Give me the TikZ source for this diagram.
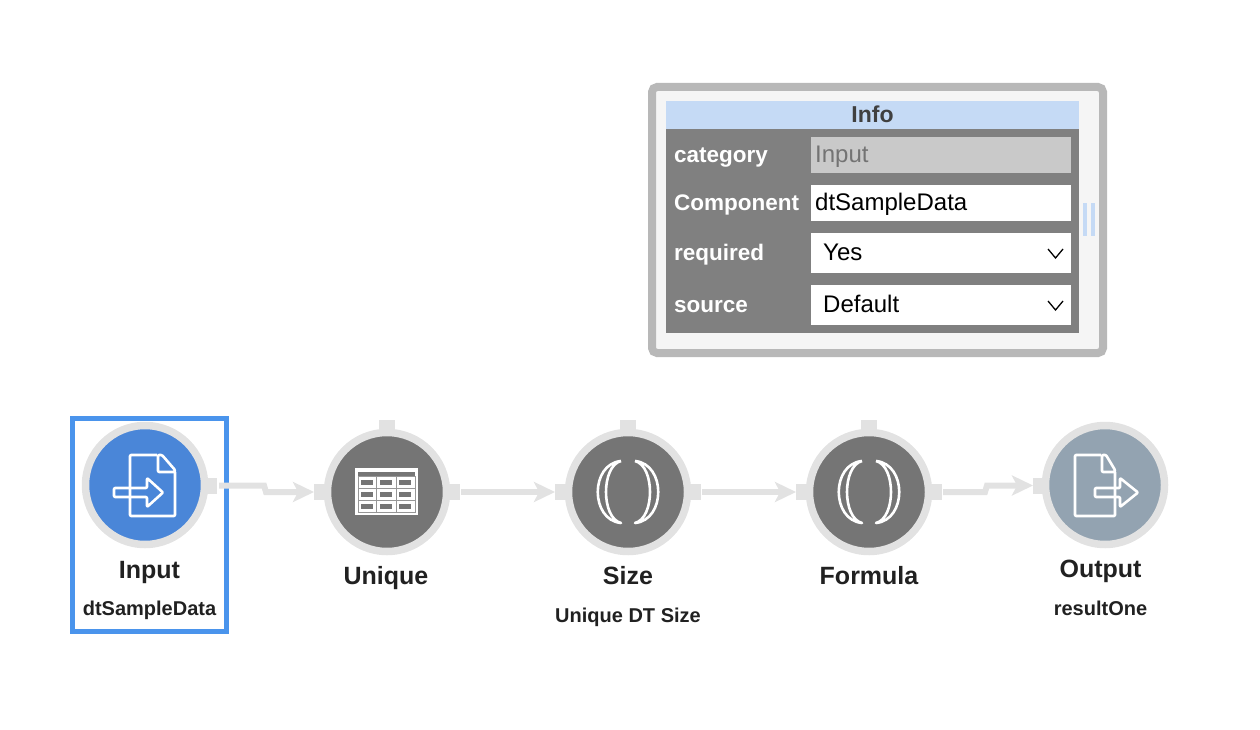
\documentclass[tikz,border=0pt]{standalone}
\usepackage{fontspec}
\setmainfont{Liberation Sans}
\usetikzlibrary{arrows.meta}
\definecolor{ringgrey}{HTML}{E2E2E2}
\definecolor{hubgrey}{HTML}{757575}
\definecolor{hubblue}{HTML}{4A86D8}
\definecolor{hubslate}{HTML}{93A3B1}
\definecolor{selectblue}{HTML}{4A94EC}
\definecolor{panelgrey}{HTML}{808080}
\definecolor{headerblue}{HTML}{C5DAF5}
\tikzset{
    hubring/.style={circle,draw=ringgrey,line width=7.5pt,minimum size=119pt,inner sep=0pt,outer sep=0pt,fill=#1},
    portbox/.style={rectangle,fill=ringgrey,minimum width=16pt,minimum height=16pt,inner sep=0pt,outer sep=0pt},
    flow/.style={draw=ringgrey,line width=6pt,-{Stealth[length=21pt,width=20pt,inset=5pt]}},
    iconline/.style={draw=white,line width=2.6pt,rounded corners=1pt,line join=round},
    hubtitle/.style={anchor=base,inner sep=0pt,text=black!87,font=\bfseries\fontsize{25}{30}\selectfont},
    hubnote/.style={anchor=base,inner sep=0pt,text=black!87,font=\bfseries\fontsize{20}{24}\selectfont},
    panelkey/.style={anchor=base west,inner sep=0pt,text=white,font=\bfseries\fontsize{22.5}{27}\selectfont},
    panelvalue/.style={anchor=base west,inner sep=0pt,text=black,font=\fontsize{24}{29}\selectfont},
    chevron/.style={draw=black,line width=1.3pt}
}

\begin{document}
\begin{tikzpicture}[x=1pt,y=-1pt]
    \useasboundingbox (0,0) rectangle (1260,730);

    % info panel
    \draw[draw=black!28,fill=black!4,line width=8pt,rounded corners=5pt] (652,87) rectangle (1103,353);
    \fill[panelgrey] (666,129) rectangle (1079,333);
    \fill[headerblue] (666,101) rectangle (1079,129);
    \node[anchor=base,inner sep=0pt,text=black!75,font=\bfseries\fontsize{23}{28}\selectfont] (infotitle) at (872.5,122.5) {Info};

    \fill[black!21] (811,137) rectangle (1071,173);
    \fill[white] (811,185) rectangle (1071,221);
    \fill[white] (811,233) rectangle (1071,273);
    \fill[white] (811,285) rectangle (1071,325);

    \node[panelkey] (keycategory) at (674,163) {category};
    \node[panelkey] (keycomponent) at (674,211) {Component};
    \node[panelkey] (keyrequired) at (674,260) {required};
    \node[panelkey] (keysource) at (674,312) {source};

    \node[panelvalue,text=black!55] (valcategory) at (815,163) {Input};
    \node[panelvalue] (valcomponent) at (815,211) {dtSampleData};
    \node[panelvalue] (valrequired) at (823,260) {Yes};
    \node[panelvalue] (valsource) at (823,312) {Default};

    \draw[chevron] (1048,249) -- (1055.5,258) -- (1063,249);
    \draw[chevron] (1048,301) -- (1055.5,310) -- (1063,301);

    % resize handle
    \fill[headerblue] (1083,203) rectangle (1087,236);
    \fill[headerblue] (1091,203) rectangle (1095,236);

    % selection frame
    \draw[selectblue,line width=5pt] (72.5,418.5) rectangle (226.5,631.5);

    % ports, under the rings
    \node[portbox] (inputout) at (209,485.5) {};
    \node[portbox] (outputin) at (1041,485.5) {};
    \foreach \hub/\x in {unique/387,size/628,formula/869} {
        \node[portbox] (\hub top) at (\x,428) {};
        \node[portbox] (\hub in) at (\x-65,492) {};
        \node[portbox] (\hub out) at (\x+65,492) {};
        \node[hubring=hubgrey] (\hub) at (\x,492) {};
    }
    \node[hubring=hubblue] (input) at (145,485) {};
    \node[hubring=hubslate] (output) at (1105,485) {};

    % connectors
    \coordinate (bendina) at (264,485.5);
    \coordinate (bendinb) at (266,492);
    \coordinate (bendouta) at (985,492);
    \coordinate (bendoutb) at (987,485.5);
    \draw[flow] ([xshift=2pt]inputout.east) -- (bendina) -- (bendinb) -- (uniquein.west);
    \draw[flow] ([xshift=1pt]uniqueout.east) -- (sizein.west);
    \draw[flow] ([xshift=1pt]sizeout.east) -- (formulain.west);
    \draw[flow] ([xshift=1pt]formulaout.east) -- (bendouta) -- (bendoutb) -- (outputin.west);

    % input icon
    \draw[iconline] (157,455) -- (130,455) -- (130,516) -- (175,516) -- (175,472);
    \draw[iconline] (158,455) -- (158,472) -- (175,472) -- (175,470) -- (162,455) -- cycle;
    \draw[iconline] (147,488) -- (114,488) -- (114,497) -- (147,497) -- (147,507) -- (163,492.5) -- (147,478) -- cycle;

    % output icon
    \draw[iconline] (1101,455) -- (1075,455) -- (1075,516) -- (1115,516) -- (1115,472);
    \draw[iconline] (1102,455) -- (1102,472) -- (1115,472) -- (1115,470) -- (1106,455) -- cycle;
    \draw[iconline] (1120,488) -- (1095,488) -- (1095,497) -- (1120,497) -- (1120,507) -- (1138,492.5) -- (1120,478) -- cycle;

    % table icon
    \fill[white] (355,468) rectangle (418,515);
    \fill[hubgrey] (358,472) rectangle (415,476);
    \draw[hubgrey!75!white,line width=.5pt] (358,476) rectangle (415,512);
    \draw[hubgrey!75!white,line width=.5pt] (376.5,476) -- (376.5,512);
    \draw[hubgrey!75!white,line width=.5pt] (396,476) -- (396,512);
    \draw[hubgrey!75!white,line width=.5pt] (358,488.5) -- (415,488.5);
    \draw[hubgrey!75!white,line width=.5pt] (358,500.5) -- (415,500.5);
    \foreach \y in {480,492,504} {
        \foreach \x in {361,380,399} {
            \fill[hubgrey] (\x,\y) rectangle (\x+12,\y+4.5);
        }
    }

    % bracket icons
    \foreach \x in {628,869} {
        \draw[white,line width=2.6pt,line join=round] (\x-7,461) .. controls (\x-38,464) and (\x-38,520) .. (\x-7,523) .. controls (\x-27,518) and (\x-27,466) .. (\x-7,461);
        \draw[white,line width=2.6pt,line join=round] (\x+7,461) .. controls (\x+38,464) and (\x+38,520) .. (\x+7,523) .. controls (\x+27,518) and (\x+27,466) .. (\x+7,461);
    }

    % labels
    \node[hubtitle] (inputname) at (149.5,578) {Input};
    \node[hubnote] (inputnote) at (149.5,615) {dtSampleData};
    \node[hubtitle] (uniquename) at (386,584) {Unique};
    \node[hubtitle] (sizename) at (628,584) {Size};
    \node[hubnote] (sizenote) at (628,622) {Unique DT Size};
    \node[hubtitle] (formulaname) at (869,584) {Formula};
    \node[hubtitle] (outputname) at (1100.5,577) {Output};
    \node[hubnote] (outputnote) at (1100.5,615) {resultOne};
\end{tikzpicture}
\end{document}
